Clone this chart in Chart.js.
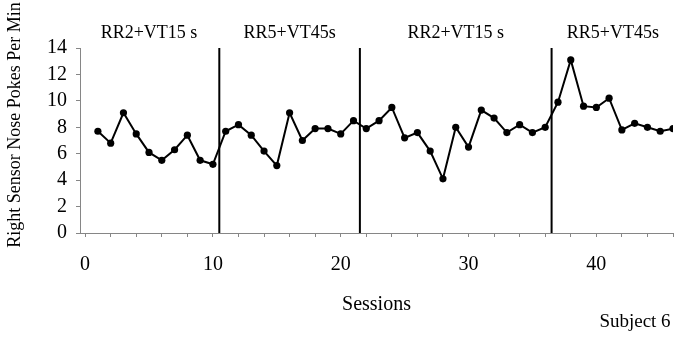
<!DOCTYPE html>
<html>
<head>
<meta charset="utf-8">
<script src="https://cdn.jsdelivr.net/npm/chart.js@4"></script>
<style>
  html, body { margin: 0; padding: 0; background: #fff; }
  #wrap { width: 677px; height: 337px; }
</style>
</head>
<body>
<div id="wrap"><canvas id="chart"></canvas></div>
<script>
const sessions = [1, 2, 3, 4, 5, 6, 7, 8, 9, 10,
  11, 12, 13, 14, 15, 16, 17, 18, 19, 20, 21,
  22, 23, 24, 25, 26, 27, 28, 29, 30, 31, 32, 33, 34, 35, 36,
  37, 38, 39, 40, 41, 42, 43, 44, 45, 46];
const pokesPerMin = [7.7, 6.8, 9.1, 7.5, 6.1, 5.5, 6.3, 7.4, 5.5, 5.2,
  7.7, 8.2, 7.4, 6.2, 5.1, 9.1, 7.0, 7.9, 7.9, 7.5, 8.5,
  7.9, 8.5, 9.5, 7.2, 7.6, 6.2, 4.1, 8.0, 6.5, 9.3, 8.7, 7.6, 8.2, 7.6, 8.0,
  9.9, 13.1, 9.6, 9.5, 10.2, 7.8, 8.3, 8.0, 7.7, 7.9];

// phase change lines sit between sessions
const phaseChanges = [10.5, 21.5, 36.5];
const phaseNames = ["RR2+VT15 s", "RR5+VT45s", "RR2+VT15 s", "RR5+VT45s"];
const phaseLabelAt = [5, 16, 29, 41.3];

const yMin = 0, yMax = 14, yStep = 2;
const xTickValues = [0, 2, 4, 6, 8, 10, 12, 14, 16, 18, 20, 22, 24, 26, 28, 30, 32, 34, 36, 38, 40, 42, 44, 46];

const serif = "'Liberation Serif', 'Times New Roman', serif";
const axisGray = "#868686";

const points = sessions.map((s, i) => ({ x: s, y: pokesPerMin[i] }));
const phaseSets = phaseChanges.map(b => ({
  data: [{ x: b, y: yMin }, { x: b, y: yMax }],
  borderColor: "#000",
  borderWidth: 2,
  pointRadius: 0,
  showLine: true
}));

const textPlugin = {
  id: "textPlugin",
  afterDraw(chart) {
    const ctx = chart.ctx;
    const xs = chart.scales.x;
    ctx.save();
    ctx.fillStyle = "#000";
    ctx.textAlign = "center";
    ctx.textBaseline = "middle";
    ctx.font = "18px " + serif;
    phaseNames.forEach((n, i) => {
      ctx.fillText(n, xs.getPixelForValue(phaseLabelAt[i]), 33);
    });
    ctx.font = "19px " + serif;
    ctx.fillText("Subject 6", 635, 322);
    ctx.font = "18px " + serif;
    ctx.translate(15, 125);
    ctx.rotate(-Math.PI / 2);
    ctx.fillText("Right Sensor Nose Pokes Per Min", 0, 0);
    ctx.restore();
  }
};

new Chart(document.getElementById("chart"), {
  type: "scatter",
  data: {
    datasets: [{
      data: points,
      showLine: true,
      borderColor: "#000",
      backgroundColor: "#000",
      borderWidth: 2,
      pointRadius: 3.6,
      pointBorderWidth: 0
    }, ...phaseSets]
  },
  options: {
    responsive: true,
    maintainAspectRatio: false,
    animation: false,
    layout: { autoPadding: false, padding: { top: 48, right: 4, left: 0, bottom: 0 } },
    plugins: { legend: { display: false }, tooltip: { enabled: false } },
    scales: {
      x: {
        type: "linear",
        min: -0.4,
        max: 46,
        afterBuildTicks: s => { s.ticks = xTickValues.map(v => ({ value: v })); },
        afterFit: s => { s.height = 104; s.paddingLeft = 0; s.paddingRight = 0; },
        grid: { drawOnChartArea: false, color: axisGray, tickLength: 4 },
        border: { color: axisGray, width: 1 },
        ticks: {
          autoSkip: false,
          maxRotation: 0,
          padding: 16,
          color: "#000",
          font: { family: serif, size: 20 },
          callback: v => (v % 10 === 0 ? v : "")
        },
        title: {
          display: true,
          text: "Sessions",
          color: "#000",
          font: { family: serif, size: 20 },
          padding: { bottom: 20 }
        }
      },
      y: {
        min: yMin,
        max: yMax,
        afterFit: s => { s.width = 80; s.paddingTop = 0; s.paddingBottom = 0; },
        grid: { drawOnChartArea: false, color: axisGray, tickLength: 4 },
        border: { color: axisGray, width: 1 },
        ticks: {
          stepSize: yStep,
          autoSkip: false,
          padding: 9,
          color: "#000",
          font: { family: serif, size: 20 }
        }
      }
    }
  },
  plugins: [textPlugin]
});
</script>
</body>
</html>
